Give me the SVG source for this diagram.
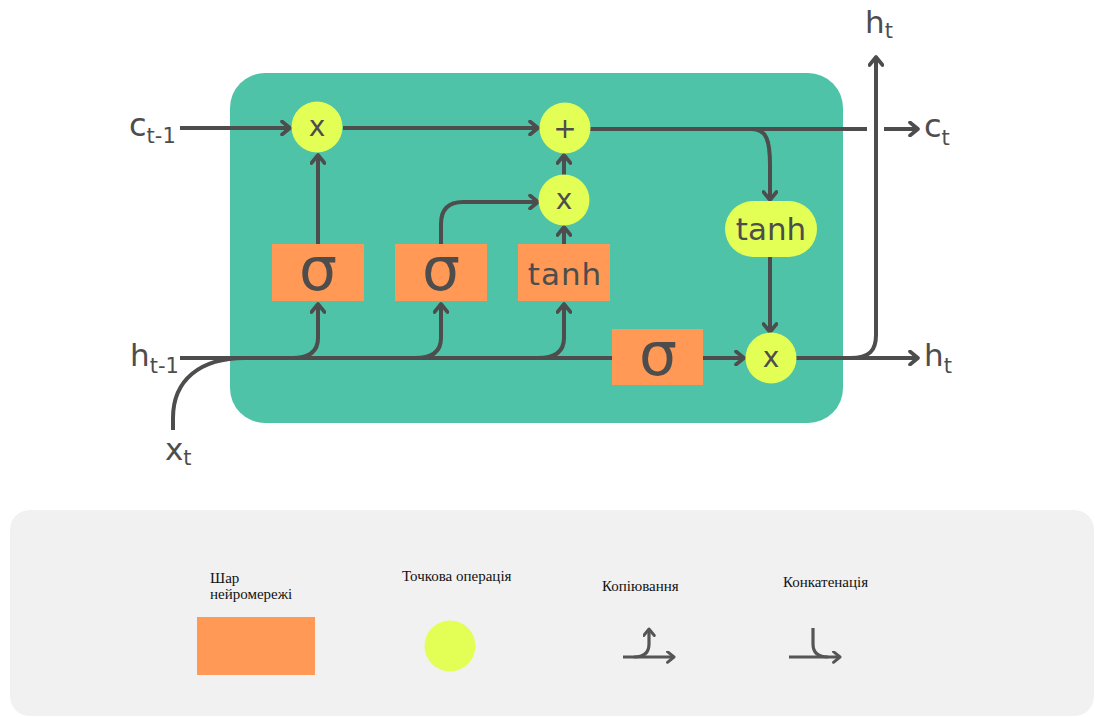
<svg xmlns="http://www.w3.org/2000/svg" width="1095" height="717" viewBox="0 0 1095 717">
<defs>
<marker id="arr" viewBox="0 0 12 16" refX="10" refY="8" markerWidth="12" markerHeight="16" markerUnits="userSpaceOnUse" orient="auto">
<path d="M2,1.5 L10,8 L2,14.5" fill="none" stroke="#4d4d4d" stroke-width="3.6" stroke-linecap="round" stroke-linejoin="round"/>
</marker>
<marker id="arrs" viewBox="0 0 12 16" refX="10" refY="8" markerWidth="10" markerHeight="13" markerUnits="userSpaceOnUse" orient="auto">
<path d="M2,1.5 L10,8 L2,14.5" fill="none" stroke="#555" stroke-width="3.6" stroke-linecap="round" stroke-linejoin="round"/>
</marker>
</defs>
<style>
.ln{fill:none;stroke:#4d4d4d;stroke-width:4}
.lg{fill:none;stroke:#555;stroke-width:3.2}
.layer{fill:#ff9955}
.op{fill:#e3ff55}
.t{font-family:"DejaVu Sans",Verdana,sans-serif;fill:#4d4d4d}
.lt{font-family:"Liberation Serif","Times New Roman",serif;font-size:15px;fill:#111}
</style>
<rect width="1095" height="717" fill="#ffffff"/>
<rect id="cell" x="230" y="73" width="613" height="350" rx="35" fill="#4ec3a7"/>

<g id="connectors">
<path class="ln" d="M180,128 H290" marker-end="url(#arr)"/>
<path class="ln" d="M343,128 H538" marker-end="url(#arr)"/>
<path class="ln" d="M590,129 H867"/>
<path class="ln" d="M884,129 H918" marker-end="url(#arr)"/>
<path class="ln" d="M752,129 C767,129 770,142 770,165 V200" marker-end="url(#arr)"/>
<path class="ln" d="M318,244 V155" marker-end="url(#arr)"/>
<path class="ln" d="M441,244 V224 Q441,202 463,202 H538" marker-end="url(#arr)"/>
<path class="ln" d="M564,244 V227" marker-end="url(#arr)"/>
<path class="ln" d="M564,175 V155" marker-end="url(#arr)"/>
<path class="ln" d="M770,257 V332" marker-end="url(#arr)"/>
<path class="ln" d="M180,358 H614"/>
<path class="ln" d="M173,430 V418 C173,380 200,358 245,358 H262"/>
<path class="ln" d="M292,358 Q318,358 318,338 V304" marker-end="url(#arr)"/>
<path class="ln" d="M415,358 Q441,358 441,338 V304" marker-end="url(#arr)"/>
<path class="ln" d="M538,358 Q564,358 564,338 V304" marker-end="url(#arr)"/>
<path class="ln" d="M703,358 H744" marker-end="url(#arr)"/>
<path class="ln" d="M796,358 H918" marker-end="url(#arr)"/>
<path class="ln" d="M850,358 C870,358 876,350 876,335 V57" marker-end="url(#arr)"/>
</g>

<g id="mult1"><circle class="op" cx="317" cy="127" r="25.5"/><text class="t" x="317" y="136" font-size="28" text-anchor="middle">x</text></g>
<g id="plus"><circle class="op" cx="565" cy="128" r="25.5"/><text class="t" x="565" y="138" font-size="28" text-anchor="middle">+</text></g>
<g id="mult2"><circle class="op" cx="564" cy="200" r="25.5"/><text class="t" x="564" y="209" font-size="28" text-anchor="middle">x</text></g>
<g id="tanh2"><rect class="op" x="725" y="201" width="92" height="56" rx="28"/><text class="t" x="771" y="240" font-size="31" text-anchor="middle">tanh</text></g>
<g id="mult3"><circle class="op" cx="771" cy="358" r="25.5"/><text class="t" x="771" y="367" font-size="28" text-anchor="middle">x</text></g>

<g id="sigma1"><rect class="layer" x="272" y="244" width="92" height="57"/><text class="t" x="318" y="290" font-size="60" text-anchor="middle">σ</text></g>
<g id="sigma2"><rect class="layer" x="395" y="244" width="92" height="57"/><text class="t" x="441" y="290" font-size="60" text-anchor="middle">σ</text></g>
<g id="tanh1"><rect class="layer" x="518" y="244" width="92" height="57"/><text class="t" x="565" y="285" font-size="31" text-anchor="middle" letter-spacing="1">tanh</text></g>
<g id="sigma3"><rect class="layer" x="612" y="329" width="91" height="56"/><text class="t" x="658" y="375" font-size="60" text-anchor="middle">σ</text></g>

<g id="labels">
<text class="t" x="129" y="136" font-size="32">c<tspan font-size="21" dy="7">t-1</tspan></text>
<text class="t" x="130" y="366" font-size="31">h<tspan font-size="21" dy="7">t-1</tspan></text>
<text class="t" x="165" y="460" font-size="31">x<tspan font-size="21" dy="5">t</tspan></text>
<text class="t" x="924" y="137" font-size="32">c<tspan font-size="21" dy="8">t</tspan></text>
<text class="t" x="865" y="33" font-size="31">h<tspan font-size="21" dy="5">t</tspan></text>
<text class="t" x="924" y="366" font-size="31">h<tspan font-size="21" dy="7">t</tspan></text>
</g>

<g id="legend">
<rect x="10" y="510" width="1084" height="206" rx="20" fill="#f1f1f1"/>
<g id="legend-layer">
<text class="lt" x="210" y="583">Шар</text>
<text class="lt" x="210" y="599">нейромережі</text>
<rect class="layer" x="197" y="617" width="118" height="58"/>
</g>
<g id="legend-op">
<text class="lt" x="402" y="581">Точкова операція</text>
<circle class="op" cx="450" cy="646" r="25.5"/>
</g>
<g id="legend-copy">
<text class="lt" x="602" y="591">Копіювання</text>
<path class="lg" d="M623,657 H674" marker-end="url(#arrs)"/>
<path class="lg" d="M634,657 Q649,657 649,644 V629" marker-end="url(#arrs)"/>
</g>
<g id="legend-concat">
<text class="lt" x="783" y="587">Конкатенація</text>
<path class="lg" d="M813,628 V644 Q813,657 828,657"/>
<path class="lg" d="M789,657 H840" marker-end="url(#arrs)"/>
</g>
</g>
</svg>
